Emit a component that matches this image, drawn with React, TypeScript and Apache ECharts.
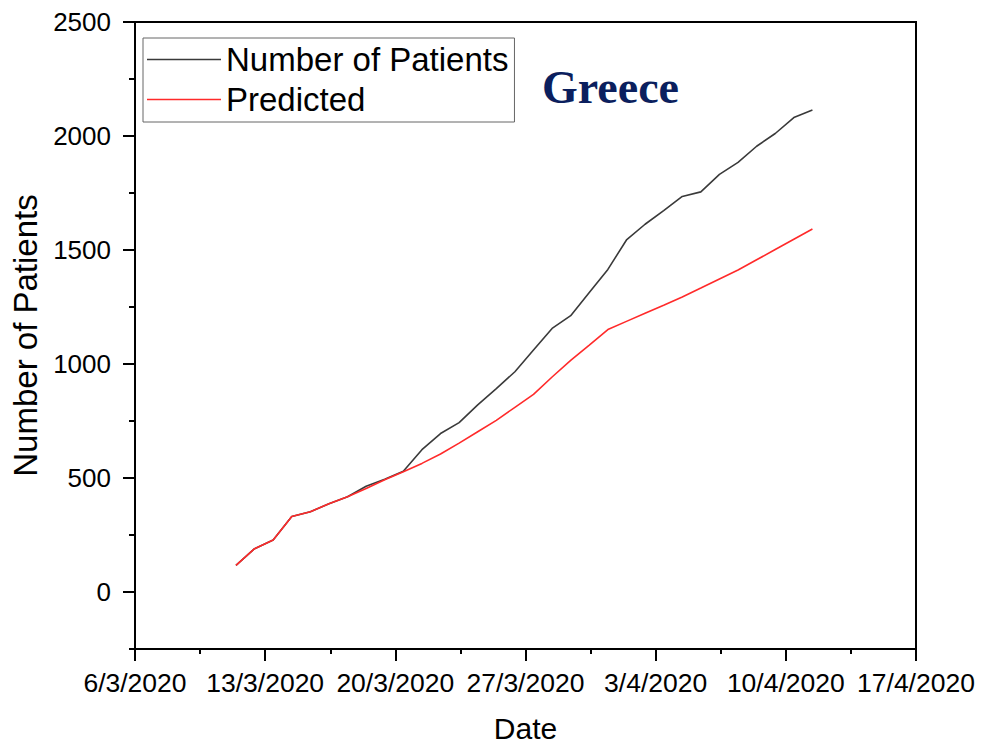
import React, { useEffect, useRef } from "react";
import * as echarts from "echarts";

const dates = [
  "2020-03-12", "2020-03-13", "2020-03-14", "2020-03-15", "2020-03-16", "2020-03-17",
  "2020-03-18", "2020-03-19", "2020-03-20", "2020-03-21", "2020-03-22", "2020-03-23",
  "2020-03-24", "2020-03-25", "2020-03-26", "2020-03-27", "2020-03-28", "2020-03-29",
  "2020-03-30", "2020-03-31", "2020-04-01", "2020-04-02", "2020-04-03", "2020-04-04",
  "2020-04-05", "2020-04-06", "2020-04-07", "2020-04-08", "2020-04-09", "2020-04-10",
  "2020-04-11", "2020-04-12",
];
const patients = [
  117, 190, 228, 331, 352, 387, 418, 464, 495, 530, 624, 695, 743, 821, 892, 966,
  1061, 1156, 1212, 1314, 1415, 1544, 1613, 1673, 1735, 1755, 1832, 1884, 1955, 2011,
  2081, 2114,
];
const predicted = [
  117, 190, 228, 331, 352, 387, 418, 454, 492, 527, 564, 605, 653, 703, 753, 810,
  867, 943, 1016, 1083, 1151, 1187, 1223, 1258, 1294, 1333, 1373, 1412, 1457, 1502,
  1547, 1592,
];
const yMajorTicks = [0, 500, 1000, 1500, 2000, 2500];
const yMinorTicks = [-250, 250, 750, 1250, 1750, 2250];

const DAY = 86400000;
const axisStart = Date.UTC(2020, 2, 6) + 0.57 * DAY;
const axisEnd = axisStart + 42 * DAY;

function toTs(s: string) {
  const [y, m, d] = s.split("-").map(Number);
  return Date.UTC(y, m - 1, d);
}

export default function App() {
  const ref = useRef<HTMLDivElement>(null);
  useEffect(() => {
    if (!ref.current) return;
    const chart = echarts.init(ref.current, undefined, { renderer: "svg" });
    const font = "Liberation Sans, Arial, sans-serif";
    chart.setOption({
      animation: false,
      backgroundColor: "#fff",
      grid: {
        left: 135,
        right: 73,
        top: 22,
        bottom: 97,
        show: true,
        borderColor: "#000",
        borderWidth: 2,
        backgroundColor: "transparent",
      },
      title: {
        text: "Greece",
        left: 537,
        top: 59,
        textStyle: {
          fontFamily: "Liberation Serif, Times New Roman, serif",
          fontWeight: "bold",
          fontSize: 46,
          color: "#0b1f5e",
        },
      },
      legend: {
        orient: "vertical",
        left: 143,
        top: 38,
        padding: [5, 6, 6, 4],
        borderColor: "#666",
        borderWidth: 1,
        icon: "rect",
        itemWidth: 74,
        itemHeight: 1.5,
        itemGap: 7,
        textStyle: { fontFamily: font, fontSize: 33, color: "#000", lineHeight: 33 },
        data: ["Number of Patients", "Predicted"],
      },
      xAxis: {
        type: "value",
        min: axisStart,
        max: axisEnd,
        interval: 7 * DAY,
        name: "Date",
        nameLocation: "middle",
        nameGap: 64,
        nameTextStyle: { fontFamily: font, fontSize: 30, color: "#000" },
        axisLine: { show: true, onZero: false, lineStyle: { color: "#000", width: 2 } },
        axisTick: { show: true, length: 12, lineStyle: { color: "#000", width: 2 } },
        minorTick: { show: true, splitNumber: 2, length: 5, lineStyle: { color: "#000", width: 2 } },
        splitLine: { show: false },
        minorSplitLine: { show: false },
        axisLabel: {
          fontFamily: font,
          fontSize: 26.5,
          color: "#000",
          margin: 20,
          formatter: (v: number) => {
            const d = new Date(v);
            return `${d.getUTCDate()}/${d.getUTCMonth() + 1}/${d.getUTCFullYear()}`;
          },
        },
      },
      yAxis: [
        {
          type: "value",
          min: -250,
          max: 2500,
          name: "Number of Patients",
          nameLocation: "middle",
          nameGap: 87,
          nameTextStyle: { fontFamily: font, fontSize: 33, color: "#000" },
          axisLine: { show: true, onZero: false, lineStyle: { color: "#000", width: 2 } },
          axisTick: { show: true, length: 12, customValues: yMajorTicks, lineStyle: { color: "#000", width: 2 } },
          axisLabel: {
            fontFamily: font,
            fontSize: 26,
            color: "#000",
            margin: 24,
            customValues: yMajorTicks,
            formatter: (v: number) => String(v),
          },
          splitLine: { show: false },
        },
        {
          type: "value",
          position: "left",
          min: -250,
          max: 2500,
          axisLine: { show: true, onZero: false, lineStyle: { color: "#000", width: 2 } },
          axisTick: { show: true, length: 6, customValues: yMinorTicks, lineStyle: { color: "#000", width: 2 } },
          axisLabel: { show: false },
          splitLine: { show: false },
        },
      ],
      series: [
        {
          name: "Number of Patients",
          type: "line",
          symbol: "none",
          yAxisIndex: 0,
          lineStyle: { color: "#3a3a3a", width: 1.6 },
          itemStyle: { color: "#3a3a3a" },
          data: dates.map((d, i) => [toTs(d), patients[i]]),
        },
        {
          name: "Predicted",
          type: "line",
          symbol: "none",
          yAxisIndex: 0,
          lineStyle: { color: "#ff2a2a", width: 1.6 },
          itemStyle: { color: "#ff2a2a" },
          data: dates.map((d, i) => [toTs(d), predicted[i]]),
        },
      ],
    });
    return () => chart.dispose();
  }, []);
  return (
    <div
      ref={ref}
      style={{ position: "fixed", left: 0, top: 0, width: 989, height: 748 }}
    />
  );
}
